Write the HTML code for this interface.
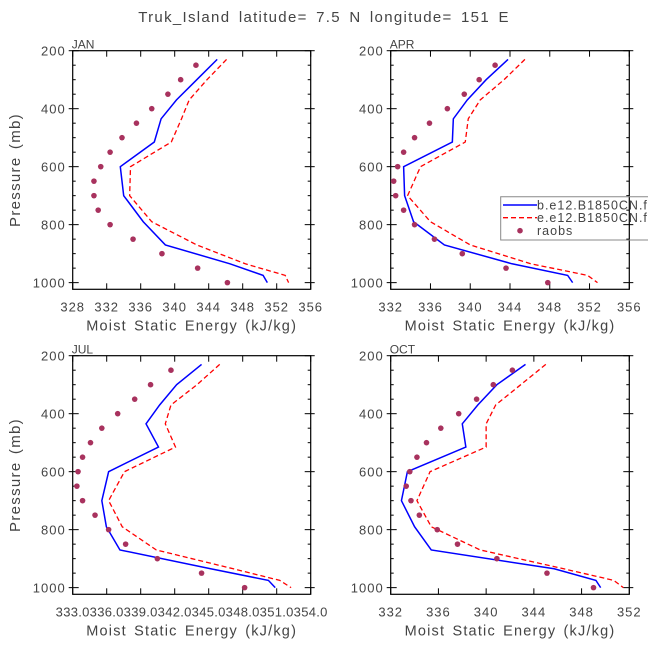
<!DOCTYPE html>
<html><head><meta charset="utf-8"><style>
html,body{margin:0;padding:0;background:#fff;}
svg{display:block;font-family:"Liberation Sans",sans-serif;}
</style></head><body>
<svg id="fig" width="648" height="649" viewBox="0 0 648 649">
<text x="324" y="22" text-anchor="middle" font-size="15" letter-spacing="1.3" word-spacing="3" fill="#444">Truk_Island  latitude= 7.5 N longitude= 151 E</text>
</svg>
<script>
const levels=[230,300,370,435,515,600,700,790,870,935,975,1000];
const raobLevels=[250,300,350,400,450,500,550,600,650,700,750,800,850,900,950,1000];
const months=["JAN","APR","JUL","OCT"];
const blueJAN=[345.0,342.6,340.2,338.4,337.6,333.6,334.0,336.3,338.9,346.5,350.4,350.9];
const redJAN=[346.1,343.8,341.7,340.8,339.6,334.8,334.7,337.3,342.6,348.3,353.0,353.4];
const obsJAN=[342.5,340.7,339.2,337.3,335.5,333.8,332.4,331.3,330.5,330.5,331.0,332.4,335.1,338.5,342.7,346.2];
const blueAPR=[343.8,341.6,339.7,338.3,338.2,333.3,333.4,334.3,337.4,344.2,349.8,350.3];
const redAPR=[345.5,343.4,341.0,339.8,339.5,335.0,333.7,336.0,340.0,346.1,351.8,352.8];
const obsAPR=[342.5,340.9,339.4,337.7,335.9,334.4,333.3,332.7,332.3,332.5,333.3,334.4,336.4,339.2,343.6,347.8];
const blueJUL=[344.4,342.2,340.7,339.5,340.6,336.2,335.6,336.0,337.2,345.2,350.3,350.9];
const redJUL=[346.0,344.0,341.7,341.2,342.1,337.6,336.2,337.4,340.4,347.2,351.3,352.3];
const obsJUL=[341.7,339.9,338.5,337.0,335.6,334.6,333.9,333.5,333.4,333.9,335.0,336.2,337.7,340.5,344.4,348.2];
const blueOCT=[343.3,340.9,339.3,338.0,338.3,333.4,332.9,334.0,335.4,345.7,349.2,349.6];
const redOCT=[345.0,342.9,340.8,340.0,340.0,335.3,334.2,335.4,339.5,346.5,350.7,351.5];
const obsOCT=[342.2,340.6,339.2,337.7,336.2,335.0,334.2,333.6,333.3,333.7,334.4,335.9,337.6,340.9,345.1,349.0];
const xTicksJAN=[328,332,336,340,344,348,352,356];
const xTicksAPR=[332,336,340,344,348,352,356];
const xTicksJUL=[333.03,336.03,339.03,342.03,345.03,348.03,351.03,354.03];
const xTickLabelsJUL=["333.0","336.0","339.0","342.0","345.0","348.0","351.0","354.0"];
const xTicksOCT=[332,336,340,344,348,352];
const yTicks=[200,400,600,800,1000];

const NS="http://www.w3.org/2000/svg";
const svg=document.getElementById('fig');
function mk(tag,attrs,parent){const e=document.createElementNS(NS,tag);for(const k in attrs)e.setAttribute(k,attrs[k]);(parent||svg).appendChild(e);return e;}

const panels=[
 {m:"JAN",x0:72.7,x1:310.7,y0:50.7,xmin:328,xmax:356,blue:blueJAN,red:redJAN,obs:obsJAN,ticks:xTicksJAN,labels:null,ytitle:true},
 {m:"APR",x0:390.7,x1:629.3,y0:50.7,xmin:332,xmax:356,blue:blueAPR,red:redAPR,obs:obsAPR,ticks:xTicksAPR,labels:null,ytitle:false},
 {m:"JUL",x0:72.7,x1:310.7,y0:355.7,xmin:333.03,xmax:354.03,blue:blueJUL,red:redJUL,obs:obsJUL,ticks:xTicksJUL,labels:xTickLabelsJUL,ytitle:true},
 {m:"OCT",x0:390.7,x1:629.3,y0:355.7,xmin:332,xmax:352,blue:blueOCT,red:redOCT,obs:obsOCT,ticks:xTicksOCT,labels:null,ytitle:false}
];
const PMIN=200,PMAX=1023;
panels.forEach(p=>{
 const g=mk('g',{});
 
 
 const y1=p.y0+238.6;
 const sx=v=>p.x0+(v-p.xmin)/(p.xmax-p.xmin)*(p.x1-p.x0);
 const sy=v=>p.y0+(v-PMIN)/(PMAX-PMIN)*(y1-p.y0);
 const frame=mk('rect',{x:p.x0,y:p.y0,width:p.x1-p.x0,height:y1-p.y0,fill:'none',stroke:'#000','stroke-width':1.2},g);
 
 
 for(let v=200;v<=1000;v+=50){
  const major=v%200===0, len=major?6:3;
  mk('line',{x1:p.x0,x2:p.x0+len,y1:sy(v),y2:sy(v),stroke:'#000'},g);
  mk('line',{x1:p.x1,x2:p.x1-len,y1:sy(v),y2:sy(v),stroke:'#000'},g);
  mk('line',{x1:p.x0,x2:p.x0-(major?4:0),y1:sy(v),y2:sy(v),stroke:'#000'},g);
  mk('line',{x1:p.x1,x2:p.x1+(major?4:0),y1:sy(v),y2:sy(v),stroke:'#000'},g);
 }
 yTicks.forEach(v=>{
  const t=mk('text',{x:p.x0-7,y:sy(v)+5,'text-anchor':'end','font-size':13,'letter-spacing':1,fill:'#444'},g);
  t.textContent=v;
  
  
 });
 p.ticks.forEach((v,i)=>{
  mk('line',{x1:sx(v),x2:sx(v),y1:y1,y2:y1-6,stroke:'#000'},g);
  mk('line',{x1:sx(v),x2:sx(v),y1:p.y0,y2:p.y0+6,stroke:'#000'},g);
  const t=mk('text',{x:sx(v),y:y1+22,'text-anchor':'middle','font-size':13,'letter-spacing':p.labels?0.3:1,fill:'#444'},g);
  t.textContent=p.labels?p.labels[i]:v;
  
  
 });
 const xt=mk('text',{x:(p.x0+p.x1)/2,y:y1+41,'text-anchor':'middle','font-size':14.5,'letter-spacing':1.2,'word-spacing':2,fill:'#444'},g);
 xt.textContent='Moist Static Energy (kJ/kg)';
 
 
 if(p.ytitle){
  const cy=(p.y0+y1)/2;
  const yt=mk('text',{x:20,y:cy,'text-anchor':'middle','font-size':15,'letter-spacing':1.3,'word-spacing':2,fill:'#444',transform:`rotate(-90 20 ${cy})`},g);
  yt.textContent='Pressure (mb)';
  
  
 }
 const lab=mk('text',{x:p.x0-1,y:p.y0-2,'font-size':12,fill:'#444'},g);
 lab.textContent=p.m;
 
 
 const bl=mk('polyline',{points:p.blue.map((v,i)=>sx(v)+','+sy(levels[i])).join(' '),fill:'none',stroke:'#0000ff','stroke-width':1.5},g);
 
 
 const rl=mk('polyline',{points:p.red.map((v,i)=>sx(v)+','+sy(levels[i])).join(' '),fill:'none',stroke:'#ff0000','stroke-width':1.3,'stroke-dasharray':'5,3'},g);
 
 
 p.obs.forEach((v,i)=>{
  const c=mk('circle',{cx:sx(v),cy:sy(raobLevels[i]),r:2.8,fill:'#a8325e'},g);
  
  
 });
});
const lg=mk('g',{});


mk('polyline',{points:'660,196.7 500.7,196.7 500.7,240 660,240',fill:'none',stroke:'#888','stroke-width':1},lg);
mk('line',{x1:503,x2:537,y1:205,y2:205,stroke:'#0000ff','stroke-width':1.5},lg);
mk('line',{x1:503,x2:537,y1:217.7,y2:217.7,stroke:'#ff0000','stroke-width':1.3,'stroke-dasharray':'5,3'},lg);
mk('circle',{cx:520,cy:230.7,r:2.8,fill:'#a8325e'},lg);
[['b.e12.B1850CN.f19',209.5],['e.e12.B1850CN.f19',222],['raobs',235]].forEach(([s,y])=>{
 const t=mk('text',{x:537,y:y,'font-size':12.5,'letter-spacing':1,fill:'#444'},lg);
 t.textContent=s;
 
 
});
</script>
</body></html>
